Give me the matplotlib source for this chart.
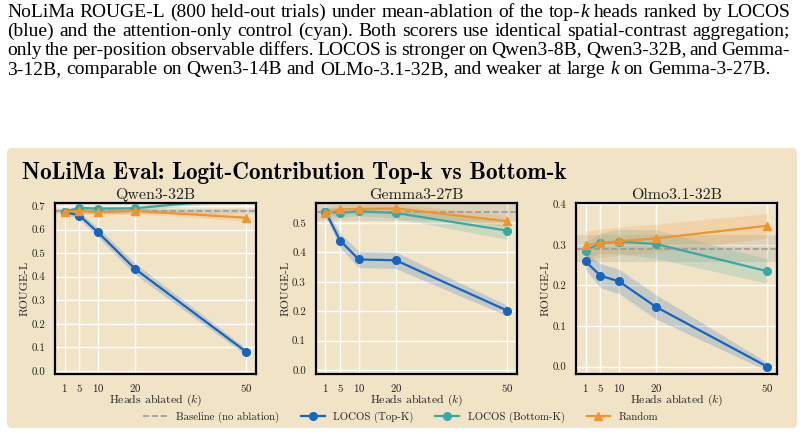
import matplotlib
matplotlib.use('Agg')
import matplotlib.pyplot as plt
from matplotlib.patches import FancyBboxPatch
from matplotlib.ticker import FormatStrFormatter
import numpy as np

plt.rcParams.update({
    'font.family': 'cmr10',
    'mathtext.fontset': 'cm',
    'axes.unicode_minus': False,
    'axes.formatter.use_mathtext': True,
})

# ---- data ----
k_vals = [1, 5, 10, 20, 50]
models = ['Qwen3-32B', 'Gemma3-27B', 'Olmo3.1-32B']

baseline = [0.677, 0.538, 0.290]
baseline_err = [0.012, 0.030, 0.033]

top_k = [[0.675, 0.659, 0.588, 0.433, 0.081],
         [0.539, 0.440, 0.376, 0.373, 0.202],
         [0.259, 0.224, 0.210, 0.147, 0.000]]
top_err = [[0.010, 0.015, 0.020, 0.024, 0.015],
           [0.012, 0.025, 0.028, 0.028, 0.018],
           [0.020, 0.030, 0.030, 0.030, 0.010]]

bottom_k = [[0.675, 0.692, 0.689, 0.690, 0.735],
            [0.539, 0.534, 0.540, 0.534, 0.474],
            [0.286, 0.304, 0.308, 0.302, 0.235]]
bottom_err = [[0.010, 0.010, 0.010, 0.010, 0.012],
              [0.015, 0.015, 0.015, 0.018, 0.030],
              [0.020, 0.025, 0.030, 0.035, 0.030]]

random_k = [[0.676, 0.679, 0.673, 0.679, 0.650],
            [0.533, 0.547, 0.547, 0.550, 0.506],
            [0.299, 0.304, 0.309, 0.316, 0.347]]
random_err = [[0.012, 0.012, 0.012, 0.012, 0.014],
              [0.015, 0.015, 0.015, 0.015, 0.020],
              [0.035, 0.035, 0.035, 0.035, 0.030]]

y_tops = [0.7, 0.5, 0.4]
y_lims = [(-0.0125, 0.7125), (-0.014, 0.568), (-0.018, 0.403)]

# '*k*' marks the italic k
caption_lines = [
    'NoLiMa ROUGE-L (800 held-out trials) under mean-ablation of the top-*k* heads ranked by LOCOS',
    '(blue) and the attention-only control (cyan). Both scorers use identical spatial-contrast aggregation;',
    'only the per-position observable differs. LOCOS is stronger on Qwen3-8B, Qwen3-32B, and Gemma-',
    '3-12B, comparable on Qwen3-14B and OLMo-3.1-32B, and weaker at large *k* on Gemma-3-27B.',
]

C_BOX = '#F1E3C6'
C_BLUE = '#1565C0'
C_CYAN = '#3AA9A6'
C_ORANGE = '#EE9530'
C_BASE = '#9A9A9A'
C_TXT = '#222222'

W, H = 807, 434
fig = plt.figure(figsize=(W / 100, H / 100), dpi=100)
fig.patch.set_facecolor('white')

# background axes in pixel coordinates
bg = fig.add_axes([0, 0, 1, 1], zorder=0)
bg.set_xlim(0, W); bg.set_ylim(H, 0); bg.axis('off')
bg.add_patch(FancyBboxPatch((7, 148), 790, 280,
                            boxstyle='round,pad=0,rounding_size=5',
                            fc=C_BOX, ec='none'))

# paper caption, justified word by word
renderer = fig.canvas.get_renderer()
cap_kw = dict(fontfamily='Liberation Serif', fontsize=14, color='black',
              va='baseline', ha='left')


def word_parts(y, word):
    parts = []
    for j, seg in enumerate(word.split('*')):
        if seg:
            a = bg.text(0, y, seg, style='italic' if j % 2 else 'normal', **cap_kw)
            parts.append((a, a.get_window_extent(renderer).width))
    return parts


probe = bg.text(0, 0, 'a a', **cap_kw)
space_w = probe.get_window_extent(renderer).width
probe.set_text('aa')
space_w -= probe.get_window_extent(renderer).width
probe.remove()

x_left, x_right = 7, 790
baselines = [17, 36, 55, 74]
for i, line in enumerate(caption_lines):
    y = baselines[i]
    words = [word_parts(y, w) for w in line.split()]
    widths = [sum(p[1] for p in w) for w in words]
    if i == len(caption_lines) - 1:
        gap = space_w
    else:
        gap = max((x_right - x_left - sum(widths)) / (len(words) - 1), 2.0)
    x = x_left
    for parts, w in zip(words, widths):
        xp = x
        for a, pw in parts:
            a.set_x(xp)
            xp += pw
        x += w + gap

bg.text(22, 179, 'NoLiMa Eval: Logit-Contribution Top-k vs Bottom-k',
        fontfamily='cmb10', fontsize=16.7, color='black', va='baseline')

lefts = [55, 315.7, 576]
for i, m in enumerate(models):
    ax = fig.add_axes([lefts[i] / W, 1 - 374 / H, 201 / W, 171 / H], zorder=2)
    ax.set_facecolor(C_BOX)
    ax.set_axisbelow(True)
    ax.grid(True, color='white', lw=1.0)

    ax.axhspan(baseline[i] - baseline_err[i], baseline[i] + baseline_err[i],
               color='gray', alpha=0.18, lw=0)
    ax.axhline(baseline[i], color=C_BASE, ls='--', lw=1.2,
               label='Baseline (no ablation)')

    series = [(top_k[i], top_err[i], C_BLUE, 'o', 'LOCOS (Top-K)'),
              (bottom_k[i], bottom_err[i], C_CYAN, 'o', 'LOCOS (Bottom-K)'),
              (random_k[i], random_err[i], C_ORANGE, '^', 'Random')]
    for vals, errs, c, mk, lbl in series:
        v = np.array(vals); e = np.array(errs)
        ax.fill_between(k_vals, v - e, v + e, color=c, alpha=0.2, lw=0)
        ax.plot(k_vals, v, color=c, marker=mk, ms=5.5, lw=1.6, label=lbl)

    ax.set_xlim(-1.6, 52.6)
    ax.set_ylim(*y_lims[i])
    ax.set_xticks(k_vals)
    ax.set_yticks(np.arange(0, y_tops[i] + 0.01, 0.1))
    ax.yaxis.set_major_formatter(FormatStrFormatter('%.1f'))
    ax.tick_params(axis='y', length=0, labelsize=7.8, pad=7, labelcolor=C_TXT)
    ax.tick_params(axis='x', length=0, labelsize=7.8, pad=6, labelcolor=C_TXT)
    for s in ax.spines.values():
        s.set_color('black'); s.set_linewidth(1.6)
    ax.set_title(m, fontsize=11.5, pad=3, color=C_TXT)
    ax.set_xlabel('Heads ablated ($k$)', fontsize=8.5, labelpad=-1, color=C_TXT)
    ax.set_ylabel('ROUGE-L', fontsize=8.5, labelpad=1, color=C_TXT)
    if i == 0:
        handles, labels = ax.get_legend_handles_labels()

fig.legend(handles, labels, loc='center', bbox_to_anchor=(401 / W, 1 - 417 / H),
           ncol=4, frameon=False, fontsize=7.8, handlelength=2.2,
           handletextpad=0.8, columnspacing=2.0, labelcolor=C_TXT,
           borderpad=0.1)

fig.savefig('out.png', dpi=100, facecolor='white')
